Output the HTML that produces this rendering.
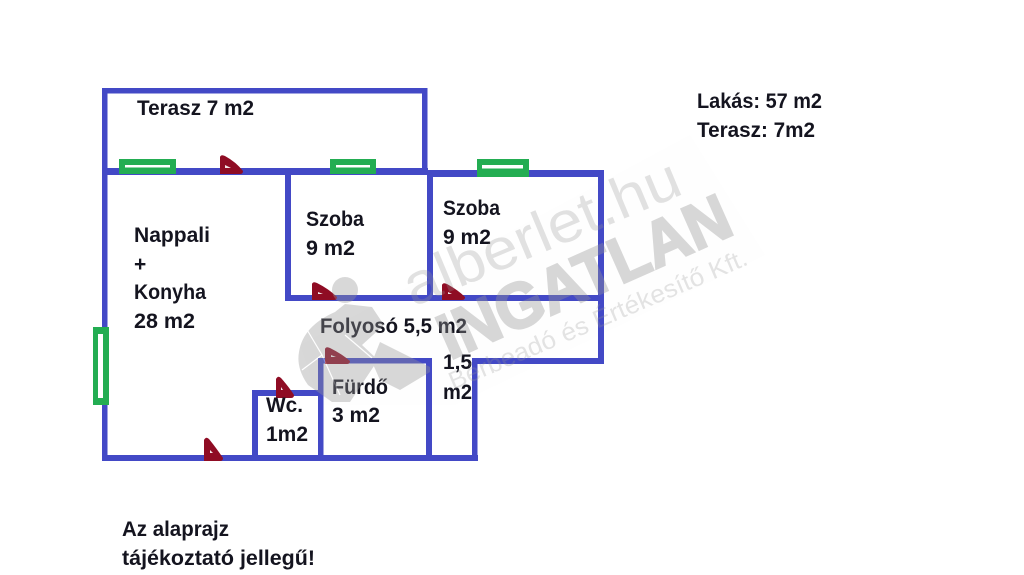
<!DOCTYPE html>
<html><head><meta charset="utf-8"><style>
html,body{margin:0;padding:0;background:#fff}
svg{display:block;filter:blur(0.35px)}
.t{font-family:"Liberation Sans",sans-serif;font-weight:bold;font-size:21px;fill:#14141f}
.w{font-family:"Liberation Sans",sans-serif;fill:#969696}
</style></head><body>
<svg width="1024" height="575" viewBox="0 0 1024 575" xmlns="http://www.w3.org/2000/svg">
<rect width="1024" height="575" fill="#fff"/>
<path d="M300 345L690 135L765 255L455 405L320 405Z" fill="#fefefe"/>
<g fill="#4349c6">
<rect x="102" y="88" width="325" height="5.5"/>
<rect x="102" y="88" width="5.5" height="373"/>
<rect x="422" y="88" width="5.5" height="86"/>
<rect x="102" y="168" width="326" height="7"/>
<rect x="427" y="170" width="177" height="7"/>
<rect x="285" y="170" width="6" height="131"/>
<rect x="427" y="170" width="6" height="131"/>
<rect x="285" y="295" width="319" height="6"/>
<rect x="598" y="170" width="6" height="194"/>
<rect x="472" y="358" width="132" height="6"/>
<rect x="472" y="358" width="5.5" height="103"/>
<rect x="318" y="358" width="114" height="5.5"/>
<rect x="318" y="358" width="5.5" height="103"/>
<rect x="426" y="358" width="6" height="103"/>
<rect x="252" y="390" width="70" height="6"/>
<rect x="252" y="390" width="6" height="71"/>
<rect x="102" y="455" width="376" height="6"/>
</g>
<g fill="#23ad52">
<rect x="119" y="159" width="57" height="15"/>
<rect x="330" y="159" width="46" height="15"/>
<rect x="477" y="159" width="52" height="18"/>
<rect x="93" y="327" width="16" height="78"/>
</g>
<g fill="#fff">
<rect x="125" y="165" width="45" height="2.5"/>
<rect x="336" y="165" width="34" height="2.5"/>
<rect x="482" y="165" width="41" height="3.5"/>
<rect x="98" y="334" width="5" height="64"/>
</g>
<g fill="#8f0c24">
<path d="M220 157Q221 154 225 156Q236 162 243 171Q243 174 240 174L220 174Z"/>
<path d="M312 284Q313 281 317 283Q329 289 337 297Q337 300 334 300L312 300Z"/>
<path d="M442 285Q443 282 447 284Q458 290 465 297Q465 300 462 300L442 300Z"/>
<path d="M325 349Q326 346 330 348Q342 354 350 361Q350 364 347 364L325 364Z"/>
<path d="M276 379Q278 375 281 378Q289 387 294 395Q294 398 291 398L276 398Z"/>
<path d="M204 440Q206 436 209 439Q217 449 223 458Q223 461 220 461L204 461Z"/>
</g>
<g fill="#f2e6e8">
<path d="M225 165L231 168L225 168Z"/><path d="M318 292L323 294L318 294Z"/><path d="M448 292L452 294L448 294Z"/>
<path d="M331 355L336 357L331 357Z"/><path d="M281 387L283 390L281 390Z"/><path d="M210 450L213 453L210 453Z"/>
</g>
<g>
<text class="t" x="137" y="115" textLength="117" lengthAdjust="spacingAndGlyphs">Terasz 7 m2</text>
<text class="t" x="134" y="242" textLength="76" lengthAdjust="spacingAndGlyphs">Nappali</text>
<text class="t" x="134" y="271">+</text>
<text class="t" x="134" y="299" textLength="72" lengthAdjust="spacingAndGlyphs">Konyha</text>
<text class="t" x="134" y="328" textLength="61" lengthAdjust="spacingAndGlyphs">28 m2</text>
<text class="t" x="306" y="226" textLength="58" lengthAdjust="spacingAndGlyphs">Szoba</text>
<text class="t" x="306" y="255" textLength="49" lengthAdjust="spacingAndGlyphs">9 m2</text>
<text class="t" x="443" y="215" textLength="57" lengthAdjust="spacingAndGlyphs">Szoba</text>
<text class="t" x="443" y="244" textLength="48" lengthAdjust="spacingAndGlyphs">9 m2</text>
<text class="t" x="320" y="333" textLength="147" lengthAdjust="spacingAndGlyphs">Folyosó 5,5 m2</text>
<text class="t" x="443" y="369" textLength="29" lengthAdjust="spacingAndGlyphs">1,5</text>
<text class="t" x="443" y="399" textLength="29" lengthAdjust="spacingAndGlyphs">m2</text>
<text class="t" x="332" y="394" textLength="56" lengthAdjust="spacingAndGlyphs">Fürdő</text>
<text class="t" x="332" y="422" textLength="48" lengthAdjust="spacingAndGlyphs">3 m2</text>
<text class="t" x="266" y="412" textLength="37" lengthAdjust="spacingAndGlyphs">Wc.</text>
<text class="t" x="266" y="441" textLength="42" lengthAdjust="spacingAndGlyphs">1m2</text>
<text class="t" x="122" y="536" textLength="107" lengthAdjust="spacingAndGlyphs">Az alaprajz</text>
<text class="t" x="122" y="565" textLength="193" lengthAdjust="spacingAndGlyphs">tájékoztató jellegű!</text>
<text class="t" x="697" y="108" textLength="125" lengthAdjust="spacingAndGlyphs">Lakás: 57 m2</text>
<text class="t" x="697" y="137" textLength="118" lengthAdjust="spacingAndGlyphs">Terasz: 7m2</text>
</g>
<g opacity="0.37">
<circle cx="345" cy="290" r="13" fill="#969696"/>
<path d="M299 352Q303 326 335 312L345 304L372 307L384 325L362 345L378 360L350 402L332 402L308 385Q296 368 299 352Z" fill="#969696"/>
<path d="M380 342L430 367L430 372L400 390L380 380L372 362Z" fill="#969696"/>
<g stroke="#fff" stroke-width="1.2" fill="none">
<path d="M302 370L322 355L306 328"/>
<path d="M322 355L340 395"/>
<path d="M345 335L372 358"/>
</g>
<text class="w" transform="translate(413 307) rotate(-22.7)" font-size="58" textLength="295" lengthAdjust="spacingAndGlyphs" opacity="0.75">alberlet.hu</text>
<text class="w" font-weight="bold" stroke="#969696" stroke-width="2.5" transform="translate(450 360) rotate(-23.9)" font-size="64" textLength="313" lengthAdjust="spacingAndGlyphs">INGATLAN</text>
<text class="w" transform="translate(453 390) rotate(-23)" font-size="25" textLength="322" lengthAdjust="spacingAndGlyphs" opacity="0.7">Bérbeadó és Értékesítő Kft.</text>
</g>
</svg>
</body></html>
